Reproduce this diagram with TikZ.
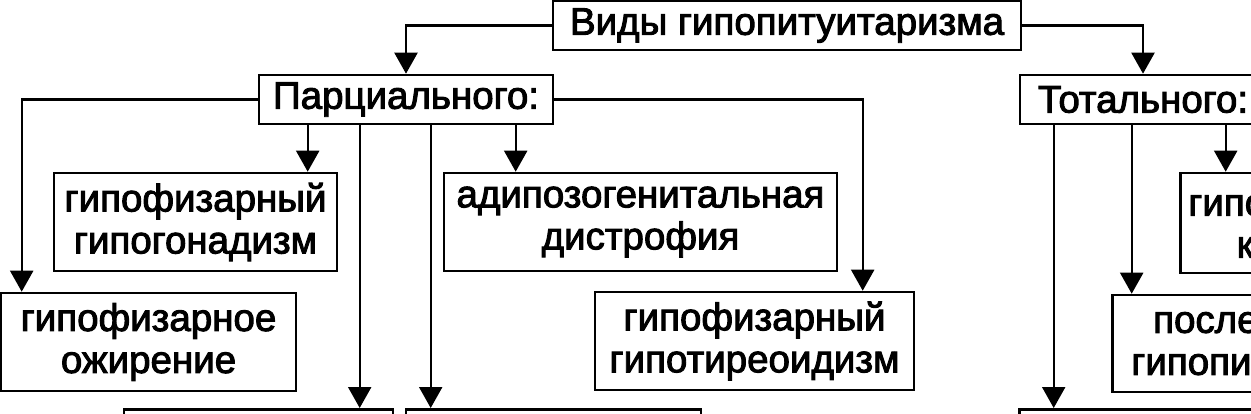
\documentclass[tikz,border=0pt]{standalone}
\usepackage{fontspec}
\setmainfont{Liberation Sans}
\newfontfamily\boxfont{Liberation Sans}[FakeBold=2.5]
\usepackage{tikz}
\usetikzlibrary{arrows.meta,positioning,calc}

\begin{document}
\begin{tikzpicture}[x=1pt,y=-1pt,
  box/.style={draw,line width=2.6pt,align=center,inner sep=0pt,
    font=\boxfont\fontsize{38.5}{42}\selectfont},
  arr/.style={-{Triangle[width=23pt,length=21pt]},line width=2.2pt}]
\useasboundingbox (0,0) rectangle (1251,413);
\clip (0,0) rectangle (1251,413);
\node (vidy) at (787,25.5) [box,minimum width=468,minimum height=49] {Виды гипопитуитаризма};
\node (parc) at (406,99.5) [box,minimum width=294,minimum height=49] {Парциального:};
\node (total) at (1143,99.5) [box,minimum width=246,minimum height=49] {Тотального:};
\node (gonad) at (195.5,222) [box,minimum width=283,minimum height=98] {гипофизарный\\гипогонадизм};
\node (adipo) at (640.5,222) [box,minimum width=393,minimum height=98] {адипозогенитальная\\дистрофия};
\node (ozhir) at (148.5,342) [box,minimum width=295,minimum height=98] {гипофизарное\\ожирение};
\node (tireo) at (754.5,341) [box,minimum width=319,minimum height=98] {гипофизарный\\гипотиреоидизм};
\node (kahex) at (1179,223) [box,anchor=west,minimum width=271,minimum height=100] {гипофизарная\\кахексия};
\node (posle) at (1111,343.5) [box,anchor=west,minimum height=97,inner xsep=19pt] {послеродовый\\гипопитуитаризм};
\node (bot1) at (258.5,408) [box,anchor=north,minimum width=269,minimum height=60] {};
\node (bot2) at (553.5,408) [box,anchor=north,minimum width=295,minimum height=60] {};
\node (bot3) at (1018,408) [box,anchor=north west,minimum width=300,minimum height=60] {};

\draw[arr] (vidy.west) -| (parc.north);
\draw[arr] (vidy.east) -| (total.north);
\draw[arr] (parc.west) -| ([xshift=22pt]ozhir.north west);
\draw[arr] (parc.east) -| ([xshift=269pt]tireo.north west);
\draw[arr] ([xshift=50pt]parc.south west) -- ([xshift=50pt]parc.south west |- gonad.north);
\draw[arr] ([xshift=102pt]parc.south west) -- ([xshift=102pt]parc.south west |- bot1.north);
\draw[arr] ([xshift=173pt]parc.south west) -- ([xshift=173pt]parc.south west |- bot2.north);
\draw[arr] ([xshift=258pt]parc.south west) -- ([xshift=258pt]parc.south west |- adipo.north);
\draw[arr] ([xshift=35pt]total.south west) -- ([xshift=35pt]total.south west |- bot3.north);
\draw[arr] ([xshift=113pt]total.south west) -- ([xshift=113pt]total.south west |- posle.north);
\draw[arr] ([xshift=207pt]total.south west) -- ([xshift=207pt]total.south west |- kahex.north);

\end{tikzpicture}
\end{document}
